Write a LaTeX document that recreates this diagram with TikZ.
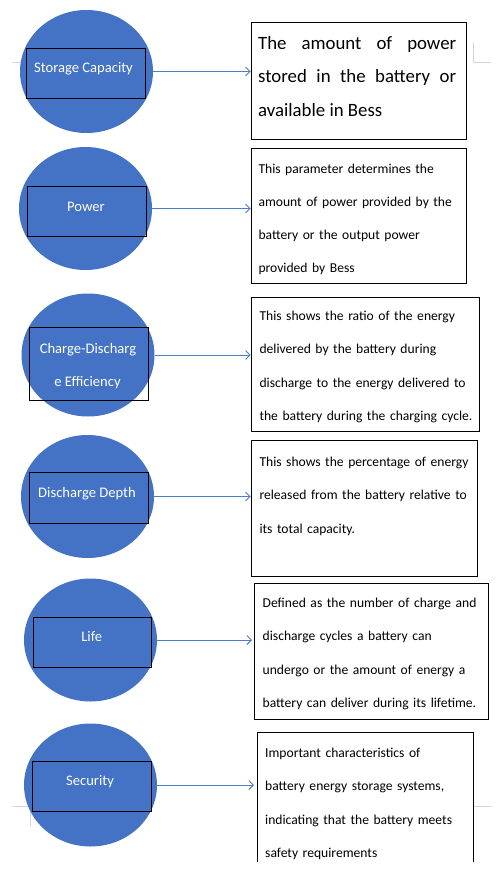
\documentclass[tikz,border=0pt]{standalone}
\usepackage{fontspec}
\setmainfont{Carlito}
\usetikzlibrary{shapes.geometric,arrows.meta}
\definecolor{offblue}{HTML}{4472C4}
\definecolor{arrblue}{HTML}{4F7BC8}
\definecolor{markgray}{HTML}{D4D4D4}
\tikzset{
  bubble/.style={ellipse,fill=offblue,draw=none,minimum width=133pt,minimum height=123pt,inner sep=0pt},
  framebox/.style={draw=black,line width=0.9pt,inner sep=0pt,anchor=north west},
  lbl/.style={text=white,font=\fontsize{14.6}{32.5}\selectfont,anchor=base,inner sep=0pt},
  desc/.style={anchor=base west,inner sep=0pt,text width=240pt,align=left,font=\fontsize{13.6}{33.3}\selectfont},
  link/.style={draw=arrblue,line width=0.9pt,-{Straight Barb[length=4.5pt,width=9pt]}},
  marginmark/.style={draw=markgray,line width=0.8pt}
}
\begin{document}
\begin{tikzpicture}[x=1pt,y=-1pt]
\useasboundingbox (0,0) rectangle (503,875);
% page margin marks
\draw[marginmark] (12,62.5) -- (30,62.5) -- (30,43);
\draw[marginmark] (473,43) -- (473,62.5) -- (491,62.5);
\draw[marginmark] (12,806) -- (30,806) -- (30,826);
\draw[marginmark] (473,806) -- (492,806);
% bubbles
\node[bubble] (c1) at (86.5,71.5) {};
\node[bubble] (c2) at (85.5,208.5) {};
\node[bubble] (c3) at (88,355) {};
\node[bubble] (c4) at (87.5,496.5) {};
\node[bubble] (c5) at (90.5,640) {};
\node[bubble] (c6) at (90.5,785) {};
% inner frames
\node[framebox,minimum width=119pt,minimum height=50pt] (r1) at (26,48) {};
\node[framebox,minimum width=119pt,minimum height=50pt] (r2) at (27,186) {};
\node[framebox,minimum width=119pt,minimum height=73pt] (r3) at (29,327) {};
\node[framebox,minimum width=119pt,minimum height=51pt] (r4) at (29,472) {};
\node[framebox,minimum width=118pt,minimum height=50pt] (r5) at (33,617) {};
\node[framebox,minimum width=119pt,minimum height=50pt] (r6) at (32,761) {};
% bubble labels
\node[lbl] (t1) at (83.5,73) {Storage Capacity};
\node[lbl] (t2) at (86,211) {Power};
\node[lbl] (t3a) at (88,353.3) {Charge-Discharg};
\node[lbl] (t3b) at (87.5,386) {e Efficiency};
\node[lbl] (t4) at (87,497.7) {Discharge Depth};
\node[lbl] (t5) at (91.7,641) {Life};
\node[lbl] (t6) at (90,785.7) {Security};
% description boxes
\node[framebox,minimum width=215pt,minimum height=116.7pt] (b1) at (250.7,22.3) {};
\node[framebox,minimum width=215pt,minimum height=135pt] (b2) at (250.7,148.3) {};
\node[framebox,minimum width=228.3pt,minimum height=134pt] (b3) at (250.7,297) {};
\node[framebox,minimum width=226pt,minimum height=135.7pt] (b4) at (250.7,440) {};
\node[framebox,minimum width=234pt,minimum height=136pt] (b5) at (254,583) {};
\node[inner sep=0pt,anchor=north west,minimum width=216pt,minimum height=130pt] (b6) at (257,732) {};
\draw[line width=0.9pt] (b6.south west) -- (b6.north west) -- (b6.north east) -- (b6.south east);
% description texts
\node[anchor=base west,inner sep=0pt,text width=198pt,align=justify,font=\fontsize{18.8}{33.5}\selectfont] (d1) at (258,49)
  {The amount of power\linebreak stored in the battery or\linebreak available in Bess};
\node[desc] (d2) at (258.3,173) {This parameter determines the\\amount of power provided by the\\battery or the output power\\provided by Bess};
\node[desc] (d3) at (259.3,320.5) {This shows the ratio of the energy\\delivered by the battery during\\discharge to the energy delivered to\\the battery during the charging cycle.};
\node[desc] (d4) at (259.3,466.5) {This shows the percentage of energy\\released from the battery relative to\\its total capacity.};
\node[desc] (d5) at (262.5,607.5) {Defined as the number of charge and\\discharge cycles a battery can\\undergo or the amount of energy a\\battery can deliver during its lifetime.};
\node[desc] (d6) at (265,757.5) {Important characteristics of\\battery energy storage systems,\\indicating that the battery meets\\safety requirements};
% connectors
\draw[link] (c1.east) -- (c1.east -| b1.west);
\draw[link] (c2.east) -- (c2.east -| b2.west);
\draw[link] (c3.east) -- (c3.east -| b3.west);
\draw[link] (c4.east) -- (c4.east -| b4.west);
\draw[link] (c5.east) -- ([xshift=-2pt]c5.east -| b5.west);
\draw[link] (c6.east) -- ([xshift=-3pt]c6.east -| b6.west);
\end{tikzpicture}
\end{document}
